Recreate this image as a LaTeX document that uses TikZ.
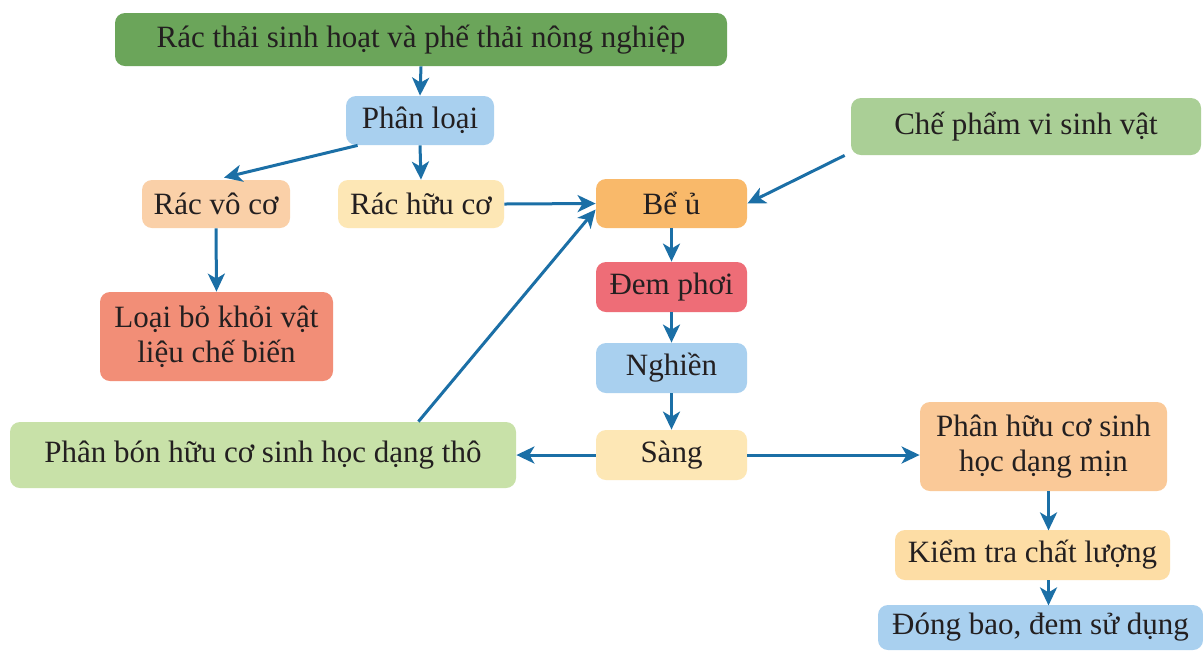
\documentclass[tikz,border=0pt]{standalone}
\usepackage{fontspec}
\setmainfont{Liberation Serif}
\usetikzlibrary{arrows.meta}
\definecolor{cDGreen}{HTML}{6BA55A}
\definecolor{cBlue}{HTML}{A9D0EF}
\definecolor{cPeach}{HTML}{FAD0A8}
\definecolor{cPale}{HTML}{FDE7B5}
\definecolor{cOrange}{HTML}{F9B96A}
\definecolor{cLGreen}{HTML}{AACF96}
\definecolor{cRed}{HTML}{EE6D77}
\definecolor{cSalmon}{HTML}{F28E77}
\definecolor{cPGreen}{HTML}{C8E1A8}
\definecolor{cMin}{HTML}{FAC998}
\definecolor{cCheck}{HTML}{FDDDA5}
\definecolor{cArrow}{HTML}{1B6FA6}
\definecolor{cText}{HTML}{231F20}
\tikzset{
  box/.style={rounded corners=5pt, inner sep=0pt, align=center, text=cText,
    font=\fontsize{15.5}{17.5}\selectfont},
  flow/.style={draw=cArrow, line width=1.5pt, -{Stealth[length=9pt,width=8.5pt,inset=2.5pt]}}
}
\begin{document}
\begin{tikzpicture}[x=0.5pt,y=-0.5pt]
\useasboundingbox[fill=white] (0,0) rectangle (1203,650);
\node[box, fill=cDGreen, minimum width=306pt, minimum height=26.5pt] (top) at (421,39.5) {Rác thải sinh hoạt và phế thải nông nghiệp};
\node[box, fill=cBlue, minimum width=74pt, minimum height=24.5pt] (pl) at (420,120.5) {Phân loại};
\node[box, fill=cPeach, minimum width=74pt, minimum height=24pt] (vc) at (216,204) {Rác vô cơ};
\node[box, fill=cPale, minimum width=83pt, minimum height=24pt] (hc) at (421,204) {Rác hữu cơ};
\node[box, fill=cOrange, minimum width=75.5pt, minimum height=24.5pt] (bu) at (671.5,203.5) {Bể ủ};
\node[box, fill=cLGreen, minimum width=175pt, minimum height=28.5pt] (cp) at (1026,126.5) {Chế phẩm vi sinh vật};
\node[box, fill=cRed, minimum width=75.5pt, minimum height=25pt] (dp) at (671.5,287) {Đem phơi};
\node[box, fill=cBlue, minimum width=75.5pt, minimum height=25pt] (ng) at (671.5,368) {Nghiền};
\node[box, fill=cPale, minimum width=75.5pt, minimum height=25pt] (sg) at (671.5,455) {Sàng};
\node[box, fill=cSalmon, minimum width=116.5pt, minimum height=44.5pt] (lb) at (216.5,336.5) {Loại bỏ khỏi vật\\liệu chế biến};
\node[box, fill=cPGreen, minimum width=253pt, minimum height=33pt] (pbt) at (263,455) {Phân bón hữu cơ sinh học dạng thô};
\node[box, fill=cMin, minimum width=123.5pt, minimum height=44.5pt] (pm) at (1043.5,446.5) {Phân hữu cơ sinh\\học dạng mịn};
\node[box, fill=cCheck, minimum width=137.5pt, minimum height=25pt] (kt) at (1032.5,555) {Kiểm tra chất lượng};
\node[box, fill=cBlue, minimum width=162.5pt, minimum height=22.5pt] (db) at (1040.5,627.5) {Đóng bao, đem sử dụng};
% connectors
\draw[flow] (pl.south west) ++(12,0) -- ([xshift=4pt,yshift=1pt]vc.north);
\draw[flow] (top.south) -- (pl.north);
\draw[flow] (pl.south) -- (hc.north);
\draw[flow] (hc.east) -- (bu.west);
\draw[flow] (cp.south west) ++(-6,0) -- (bu.east);
\draw[flow] (bu.south) -- (dp.north);
\draw[flow] (dp.south) -- (ng.north);
\draw[flow] (ng.south) -- (sg.north);
\draw[flow] (vc.south) -- (lb.north);
\draw[flow] (pbt.north east) ++(-98,0) -- ([yshift=-3pt]bu.west);
\draw[flow] (sg.west) -- (pbt.east);
\draw[flow] (sg.east) -- (pm.west |- sg.east);
\draw[flow] (pm.south -| kt.north) ++(16,0) -- ++(0,39);
\draw[flow] (kt.south) ++(16,0) -- ++(0,25);
\end{tikzpicture}
\end{document}
